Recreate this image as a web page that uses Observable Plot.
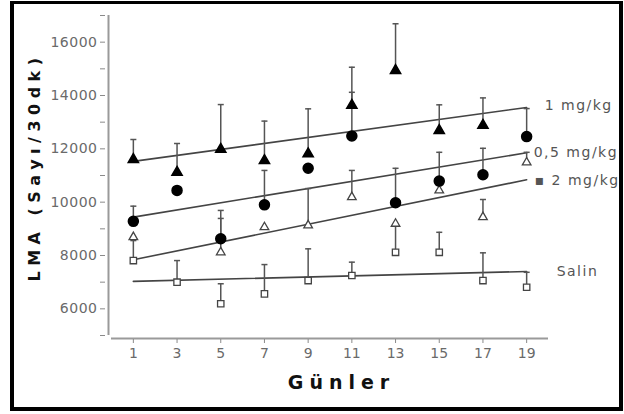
<!DOCTYPE html>
<html><head><meta charset="utf-8">
<script src="https://cdn.jsdelivr.net/npm/d3@7"></script>
<script src="https://cdn.jsdelivr.net/npm/@observablehq/plot@0.6"></script>
<style>
html,body{margin:0;padding:0;background:#fff;}
#wrap{position:relative;width:624px;height:414px;overflow:hidden;background:#fff;}
#wrap svg{position:absolute;left:0;top:0;}
#border{position:absolute;left:10px;top:1px;width:605px;height:403px;border:4px solid #000;border-top-width:3px;pointer-events:none;}
#wrap svg g[aria-label="y-axis tick label"] text{letter-spacing:0.5px;}
#wrap svg .lbl text{letter-spacing:1.5px;}
#wrap svg .xt text{letter-spacing:6px;}
#wrap svg .yt text{letter-spacing:5.5px;}
</style></head>
<body><div id="wrap"><div id="border"></div></div>
<script>
// ---- data ----
const days = [1, 3, 5, 7, 9, 11, 13, 15, 17, 19];
const mg1Mean   = [11600, 11120, 11980, 11560, 11810, 13630, 14940, 12690, 12880, null];
const mg1Upper  = [12350, 12200, 13660, 13040, 13500, 15060, 16690, 13650, 13910, null];
const mg2Mean   = [9280, 10440, 8630, 9900, 11270, 12480, 9980, 10790, 11030, 12460];
const mg2Upper  = [9850, null, 9690, 11190, null, 14120, 11270, 11870, 12020, 13510];
const mg05Mean  = [8690, null, 8120, 9060, 9130, 10190, 9190, 10440, 9440, 11490];
const mg05Upper = [null, null, 9390, null, 10510, 11190, null, null, 10100, 11870];
const salinMean = [7810, 7000, 6190, 6560, 7060, 7250, 8120, 8120, 7060, 6810];
const salinUpper= [8560, 7810, 6940, 7660, 8250, 7750, 9100, 8870, 8100, 7370];
const fitNames = ["1 mg/kg", "0,5 mg/kg", "▪ 2 mg/kg", "Salin"];
const fitStart = [11530, 9440, 7840, 7030];
const fitEnd   = [13550, 11850, 10840, 7400];
const yTicks = [5000, 6000, 7000, 8000, 9000, 10000, 11000, 12000, 13000, 14000, 15000, 16000, 17000];
const yTickLabels = ["", "6000", "", "8000", "", "10000", "", "12000", "", "14000", "", "16000", ""];
const xTickLabels = ["1", "3", "5", "7", "9", "11", "13", "15", "17", "19"];
const xTitle = "Günler";
const yTitle = "LMA (Sayı/30dk)";

// ---- build tables ----
const rows = (mean, upper) => days.map((d, i) => ({day: d, v: mean[i], up: upper[i]})).filter(r => r.v != null);
const mg1 = rows(mg1Mean, mg1Upper);
const mg2 = rows(mg2Mean, mg2Upper);
const mg05 = rows(mg05Mean, mg05Upper);
const salin = rows(salinMean, salinUpper);
const errs = [...mg1, ...mg2, ...mg05, ...salin].filter(r => r.up != null);
const fits = fitNames.flatMap((n, i) => [
  {name: n, day: days[0], v: fitStart[i]},
  {name: n, day: days[days.length - 1], v: fitEnd[i]}
]);
const fitEnds = fitNames.map((n, i) => ({name: n, day: days[days.length - 1], v: fitEnd[i]}));
const yLabelMap = new Map(yTicks.map((t, i) => [t, yTickLabels[i]]));
const xLabelMap = new Map(days.map((t, i) => [t, xTickLabels[i]]));
const capSymbol = {draw(ctx, size) { const h = Math.sqrt(size) / 2; ctx.moveTo(-h, 0); ctx.lineTo(h, 0); }};
const labelDx = [18, 7, 8, 30];
const labelDy = [-2, 0, 1, 0];

const chart = Plot.plot({
  width: 624, height: 414,
  marginLeft: 108, marginRight: 76, marginTop: 15, marginBottom: 76,
  x: {domain: [0, 20], insetLeft: 3, axis: null, label: null},
  y: {domain: [5000, 17000], insetBottom: 3, axis: null, label: null},
  style: {background: "transparent", fontFamily: "DejaVu Sans", overflow: "visible"},
  marks: [
    Plot.ruleX([0], {y1: 5000, y2: 17000, dx: -3, stroke: "#9a9a9a", strokeWidth: 2}),
    Plot.ruleY([5000], {x1: 0, x2: 20, dy: 3, stroke: "#9a9a9a", strokeWidth: 2}),
    Plot.axisY(yTicks, {anchor: "left", label: null, tickSize: 5, tickPadding: 3, dx: -3, stroke: "#8a8a8a", fill: "#6a6a6a",
      fontSize: 14, tickFormat: d => yLabelMap.get(d)}),
    Plot.axisX(days, {anchor: "bottom", label: null, tickSize: 4, tickPadding: 5, dy: 1, stroke: "#8a8a8a", fill: "#6a6a6a",
      fontSize: 14, tickFormat: d => xLabelMap.get(d)}),
    Plot.text([xTitle], {text: d => d, frameAnchor: "bottom", dx: 13, dy: 50, fontSize: 19, fontWeight: "bold", fill: "#111", className: "xt"}),
    Plot.text([yTitle], {text: d => d, frameAnchor: "left", textAnchor: "middle", rotate: -90, dx: -74, dy: -10, fontSize: 16, fontWeight: "bold", fill: "#111", className: "yt"}),
    Plot.line(fits, {x: "day", y: "v", z: "name", stroke: "#444", strokeWidth: 1.6}),
    Plot.ruleX(errs, {x: "day", y1: "v", y2: "up", stroke: "#555", strokeWidth: 1.5}),
    Plot.dot(errs, {x: "day", y: "up", symbol: capSymbol, r: 3.4, stroke: "#555", strokeWidth: 1.5, fill: "none"}),
    Plot.dot(salin, {x: "day", y: "v", symbol: "square", r: 3.6, fill: "#fff", stroke: "#444", strokeWidth: 1.3}),
    Plot.dot(mg05, {x: "day", y: "v", symbol: "triangle", r: 3.2, fill: "#fff", stroke: "#444", strokeWidth: 1.3}),
    Plot.dot(mg2, {x: "day", y: "v", r: 5, fill: "#000", stroke: "#000"}),
    Plot.dot(mg1, {x: "day", y: "v", symbol: "triangle", r: 3.8, fill: "#000", stroke: "#000"}),
    ...fitEnds.map((d, i) => Plot.text([d], {x: "day", y: "v", text: "name", dx: labelDx[i], dy: labelDy[i],
      textAnchor: "start", fontSize: 14, fill: "#555", className: "lbl"}))
  ]
});
document.getElementById("wrap").prepend(chart);
</script>
</body></html>
